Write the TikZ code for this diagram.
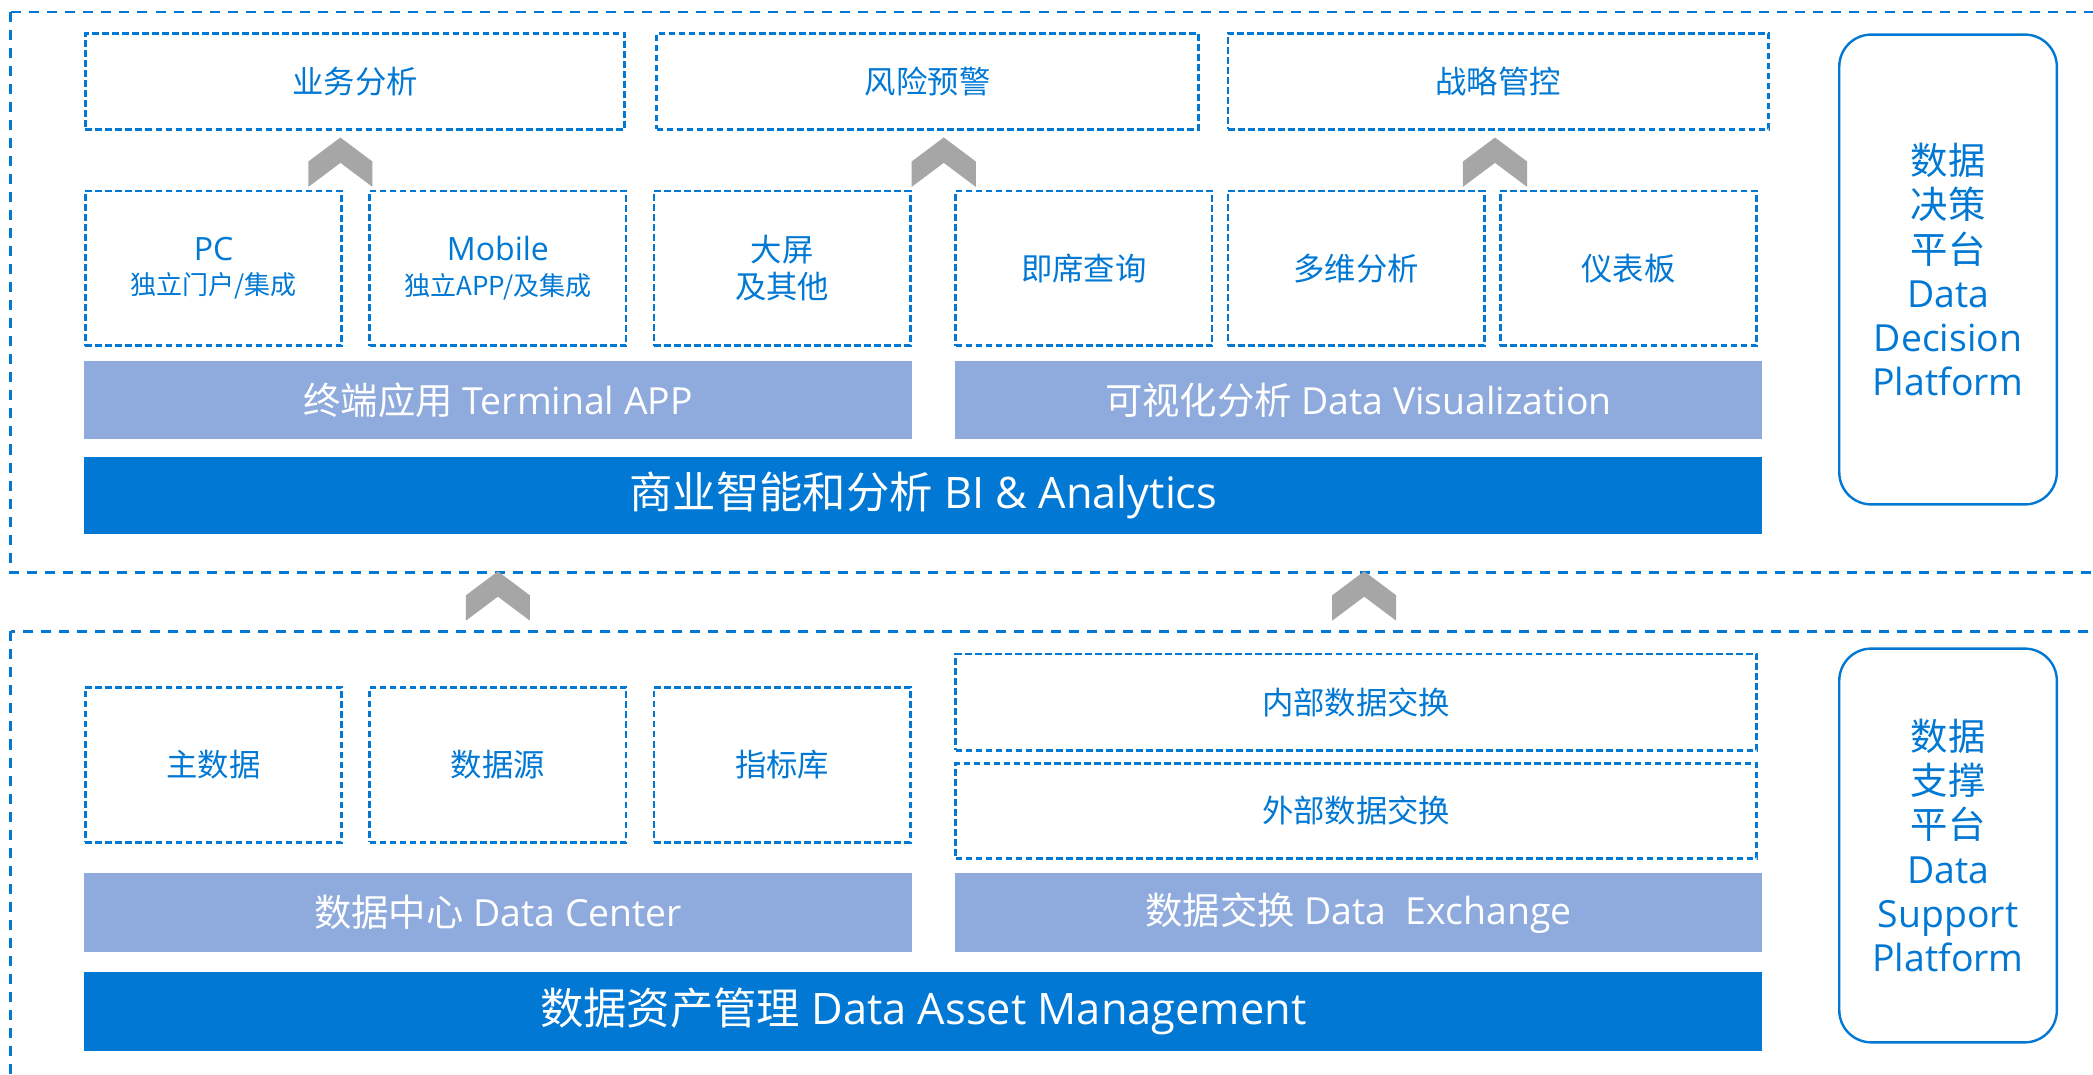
\documentclass[tikz,border=0pt]{standalone}
\usepackage{fontspec}
\setmainfont{Open Sans}
\newfontfamily\cjk{Noto Sans CJK SC}
\usetikzlibrary{calc}

\definecolor{msblue}{RGB}{0,120,212}
\definecolor{barlight}{RGB}{143,170,220}
\definecolor{chevgray}{RGB}{166,166,166}

\tikzset{
  frame/.style={draw=msblue, line width=2pt, dash pattern=on 7.5pt off 6pt},
  dbox/.style={draw=msblue, line width=2pt, dash pattern=on 5pt off 2.5pt,
    anchor=north west, inner sep=0pt, text=msblue, align=center,
    font=\cjk\fontsize{23.5}{28}\selectfont},
  lbar/.style={fill=barlight, anchor=north west, inner sep=0pt, text=white,
    font=\fontsize{28}{34}\selectfont},
  dbar/.style={fill=msblue, anchor=north west, inner sep=0pt, text=white,
    font=\fontsize{32.5}{38}\selectfont},
  side/.style={draw=msblue, line width=1.8pt, rounded corners=24pt,
    anchor=north west, inner sep=0pt, text=msblue, align=center,
    minimum width=163, font=\fontsize{28}{33}\selectfont},
  chev/.style={fill=chevgray},
}
\newcommand\chevron[1]{\fill[chev] (#1) ++(-24,0) -- ++(0,-19) -- ++(24,-18) -- ++(24,18) -- ++(0,19) -- ++(-24,-18) -- cycle;}
\newcommand\subline[1]{{\cjk\fontsize{19.5}{24}\selectfont #1}}

\begin{document}
\begin{tikzpicture}[x=1pt,y=-1pt]
  \clip (0,0) rectangle (1568,805);
  \fill[white] (0,0) rectangle (1568,805);

  %%%%% frames %%%%%
  \draw[frame] (8,9) rectangle (1590,429);
  \draw[frame] (8,473) rectangle (1590,830);

  %%%%% decision platform %%%%%
  \node[dbox, minimum width=404, minimum height=72] (ywfx) at (63,24) {业务分析};
  \node[dbox, minimum width=406, minimum height=72] (fxyj) at (491,24) {风险预警};
  \node[dbox, minimum width=405, minimum height=72] (zlgk) at (919,24) {战略管控};

  \node[dbox, minimum width=192, minimum height=116] (pc) at (63,142)
    {\rmfamily\fontsize{24}{26}\selectfont PC\\[-2pt]\subline{独立门户/集成}};
  \node[dbox, minimum width=192, minimum height=116] (mobile) at (276,142)
    {\rmfamily\fontsize{24}{26}\selectfont Mobile\\[-2pt]\subline{独立APP/及集成}};
  \node[dbox, minimum width=192, minimum height=116] (dp) at (489,142) {大屏\\及其他};
  \node[dbox, minimum width=192, minimum height=116] (jxcx) at (715,142) {即席查询};
  \node[dbox, minimum width=192, minimum height=116] (dwfx) at (919,142) {多维分析};
  \node[dbox, minimum width=192, minimum height=116] (ybb) at (1123,142) {仪表板};

  \chevron{255,140}
  \chevron{707,140}
  \chevron{1120,140}

  \node[lbar, minimum width=620, minimum height=59] (term) at (63,270) {{\cjk 终端应用} Terminal APP};
  \node[lbar, minimum width=605, minimum height=59] (vis) at (715,270) {{\cjk 可视化分析} Data Visualization};
  \node[dbar, minimum width=1257, minimum height=58] (bi) at (63,342) {{\cjk 商业智能和分析} BI \& Analytics};

  \node[side, minimum height=352] (dec) at (1377,25)
    {{\cjk 数据}\\{\cjk 决策}\\{\cjk 平台}\\Data\\Decision\\Platform};

  \chevron{373,465}
  \chevron{1022,465}

  %%%%% support platform %%%%%
  \node[dbox, minimum width=192, minimum height=116] (zsj) at (63,514) {主数据};
  \node[dbox, minimum width=192, minimum height=116] (sjy) at (276,514) {数据源};
  \node[dbox, minimum width=192, minimum height=116] (zbk) at (489,514) {指标库};

  \node[dbox, minimum width=600, minimum height=72] (nbjh) at (715,489) {内部数据交换};
  \node[dbox, minimum width=600, minimum height=71] (wbjh) at (715,571) {外部数据交换};

  \node[lbar, minimum width=620, minimum height=59] (dc) at (63,654) {{\cjk 数据中心} Data Center};
  \node[lbar, minimum width=605, minimum height=59] (dx) at (715,654) {{\cjk 数据交换} Data\ \ Exchange};
  \node[dbar, minimum width=1257, minimum height=59] (dam) at (63,728) {{\cjk 数据资产管理} Data Asset Management};

  \node[side, minimum height=295] (sup) at (1377,485)
    {{\cjk 数据}\\{\cjk 支撑}\\{\cjk 平台}\\Data\\Support\\Platform};
\end{tikzpicture}
\end{document}
